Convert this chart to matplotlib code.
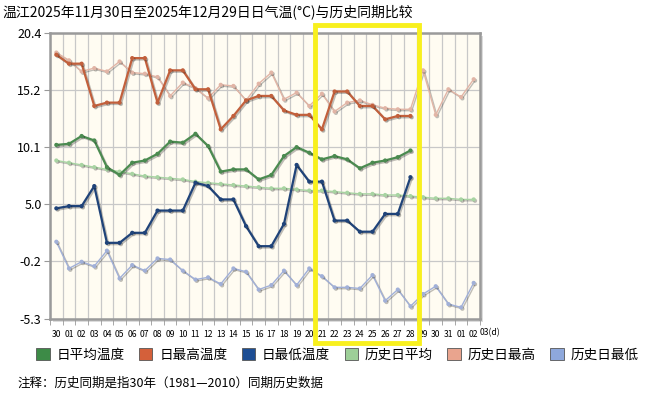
import numpy as np
import matplotlib
matplotlib.use('Agg')
import matplotlib.pyplot as plt
import matplotlib.patheffects as pe
from matplotlib.patches import Rectangle, Patch

plt.rcParams['font.family'] = ['Noto Sans CJK SC', 'DejaVu Sans']

title = '温江2025年11月30日至2025年12月29日日气温(°C)与历史同期比较'
note = '注释：历史同期是指30年（1981—2010）同期历史数据'

days = ['30', '01', '02', '03', '04', '05', '06', '07', '08', '09', '10', '11',
        '12', '13', '14', '15', '16', '17', '18', '19', '20', '21', '22', '23',
        '24', '25', '26', '27', '28', '29', '30', '31', '01', '02']

# observed, Nov 30 - Dec 28
t_avg = [10.3, 10.4, 11.1, 10.7, 8.3, 7.6, 8.7, 8.9, 9.5, 10.6, 10.5, 11.3,
         10.2, 7.9, 8.1, 8.1, 7.2, 7.6, 9.3, 10.1, 9.6, 9.0, 9.3, 9.0,
         8.2, 8.7, 8.9, 9.2, 9.8]
t_max = [18.4, 17.6, 17.6, 13.8, 14.1, 14.1, 18.1, 18.1, 14.1, 17.0, 17.0, 15.3,
         15.3, 11.7, 12.9, 14.3, 14.7, 14.7, 13.4, 13.0, 13.0, 11.7, 15.1, 15.1,
         13.8, 13.8, 12.6, 12.9, 12.9]
t_min = [4.6, 4.8, 4.8, 6.6, 1.5, 1.5, 2.4, 2.4, 4.4, 4.4, 4.4, 6.9,
         6.6, 5.4, 5.4, 3.0, 1.2, 1.2, 3.2, 8.5, 7.0, 7.0, 3.5, 3.5,
         2.5, 2.5, 4.1, 4.1, 7.4]

# historical, 1981-2010
h_avg = [8.9, 8.7, 8.5, 8.3, 8.1, 7.9, 7.7, 7.5, 7.4, 7.3, 7.2, 7.0,
         6.9, 6.8, 6.7, 6.6, 6.5, 6.4, 6.4, 6.3, 6.2, 6.2, 6.1, 6.0,
         5.9, 5.9, 5.8, 5.8, 5.7, 5.6, 5.5, 5.5, 5.4, 5.4]
h_max = [18.6, 17.9, 16.9, 17.2, 16.9, 17.8, 16.8, 16.7, 16.4, 14.7, 15.9, 15.4,
         14.5, 15.7, 15.6, 14.3, 15.8, 16.8, 14.4, 15.0, 13.8, 14.9, 13.3, 14.1,
         14.3, 13.9, 13.6, 13.5, 13.5, 17.0, 13.0, 15.3, 14.6, 16.2]
h_min = [1.6, -0.8, -0.2, -0.6, 0.8, -1.7, -0.5, -1.0, 0.1, 0.0, -1.0, -1.8,
         -1.6, -2.2, -0.8, -1.1, -2.7, -2.3, -1.0, -2.3, -0.8, -1.5, -2.5, -2.5,
         -2.6, -1.4, -3.7, -2.7, -4.2, -3.1, -2.4, -4.0, -4.3, -2.1]

y_labels = ['-5.3', '-0.2', '5.0', '10.1', '15.2', '20.4']

series = [
    ('日平均温度', t_avg, '#4b8b50', '#3d8b47', 1.6),
    ('日最高温度', t_max, '#c2603c', '#d4603a', 1.6),
    ('日最低温度', t_min, '#1f4379', '#1d4e94', 1.6),
    ('历史日平均', h_avg, '#a8d4a2', '#9dcf98', 1.0),
    ('历史日最高', h_max, '#e2b5a6', '#e9a48e', 1.0),
    ('历史日最低', h_min, '#a1b0d8', '#8ea8dc', 1.0),
]

fig = plt.figure(figsize=(6.61, 3.96), dpi=100)
# soft shadow behind the plot frame
fig.add_artist(Rectangle((53 / 661, 1 - 321.5 / 396), 430 / 661, 286 / 396,
                         transform=fig.transFigure, facecolor='#dcdcdc',
                         edgecolor='none', zorder=0))
ax = fig.add_axes([50 / 661, 1 - 318.5 / 396, 430 / 661, 286 / 396])
ax.set_facecolor('#fffcf2')

shadow = [pe.SimpleLineShadow(offset=(1, -1), alpha=0.25), pe.Normal()]
for name, vals, c, lc, lw in series[::-1]:
    x = np.arange(len(vals))
    ax.plot(x, vals, color=c, lw=lw, marker='o', ms=2.0, path_effects=shadow)

ax.set_xlim(-0.5, len(days) - 0.5)
ax.set_ylim(-5.3, 20.4)
ax.set_yticks(np.linspace(-5.3, 20.4, 6))
ax.set_yticklabels(y_labels, fontsize=9)
ax.set_xticks(np.arange(len(days)))
ax.set_xticklabels(days, fontsize=6.2)
ax.set_xticks(np.arange(len(days) + 1) - 0.5, minor=True)
ax.tick_params(axis='x', which='major', length=0, pad=8.5)
ax.tick_params(axis='x', which='minor', length=4, color='#999999')
ax.tick_params(axis='y', length=4, color='#999999', pad=2)
ax.grid(axis='x', which='minor', color='#c8c8c8', lw=0.9)
ax.grid(axis='y', which='major', color='#c8c8c8', lw=0.9)
ax.set_axisbelow(True)
for s in ax.spines.values():
    s.set_color('#9a9a9a')
    s.set_linewidth(1.8)
fig.text(480 / 661, 1 - 333 / 396, '03(d)', fontsize=6.2, va='center', ha='left')

fig.text(2 / 661, 1 - 12 / 396, title, fontsize=10.0, va='center', ha='left')

handles = [Patch(facecolor=lc, edgecolor='#555555', lw=0.6) for _, _, _, lc, _ in series]
fig.legend(handles, [s[0] for s in series], loc='center left',
           bbox_to_anchor=(36 / 661, 1 - 355 / 396), ncol=6, frameon=False,
           fontsize=9.8, handlelength=1.0, handleheight=1.0, handletextpad=0.5,
           columnspacing=1.05, borderaxespad=0, borderpad=0)
fig.text(18 / 661, 1 - 383 / 396, note, fontsize=9, va='center', ha='left')

fig.add_artist(Rectangle((315 / 661, 1 - 343 / 396), 104 / 661, 318 / 396,
                         transform=fig.transFigure, fill=False,
                         edgecolor='#f8f01e', lw=3.5))

fig.savefig('out.png', dpi=100)
